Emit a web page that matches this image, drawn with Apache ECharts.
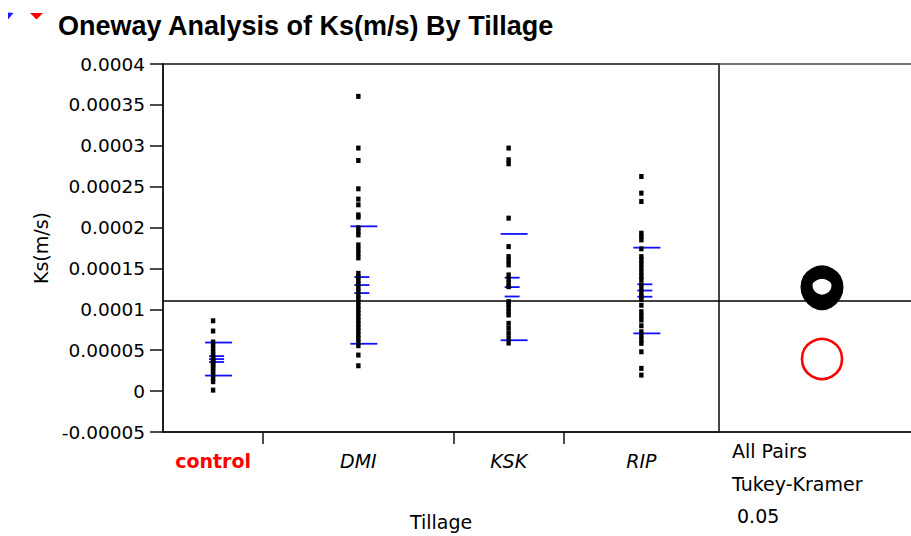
<!DOCTYPE html>
<html>
<head>
<meta charset="utf-8">
<script src="https://cdn.jsdelivr.net/npm/echarts@6/dist/echarts.min.js"></script>
<style>
  html, body { margin: 0; padding: 0; background: #ffffff; }
  #chart { width: 911px; height: 536px; }
</style>
</head>
<body>
<div id="chart"></div>
<script>
// Tillage treatments and their saturated hydraulic conductivity readings, Ks (m/s)
const categories = ['control', 'DMI', 'KSK', 'RIP'];

const controlKs = [8.6e-5, 7.35e-5, 6.0e-5, 5.6e-5, 5.2e-5, 4.8e-5, 4.5e-5, 4.1e-5, 3.9e-5, 3.8e-5,
  3.6e-5, 3.4e-5, 3.2e-5, 3.0e-5, 2.7e-5, 2.4e-5, 2.0e-5, 1.6e-5, 1.15e-5, 1.2e-6];

const dmiKs = [3.604e-4, 2.972e-4, 2.82e-4, 2.474e-4, 2.348e-4, 2.278e-4, 2.155e-4, 2.127e-4,
  1.996e-4, 1.953e-4, 1.91e-4, 1.788e-4, 1.735e-4, 1.682e-4, 1.629e-4,
  1.44e-4, 1.395e-4, 1.35e-4, 1.31e-4, 1.265e-4, 1.22e-4, 1.175e-4, 1.13e-4, 1.09e-4, 1.045e-4,
  1.0e-4, 9.55e-5, 9.1e-5, 8.65e-5, 8.2e-5, 7.8e-5, 7.35e-5, 6.9e-5, 6.45e-5, 6.0e-5, 5.55e-5,
  4.41e-5, 3.1e-5];

const kskKs = [2.972e-4, 2.829e-4, 2.78e-4, 2.115e-4, 1.767e-4, 1.645e-4, 1.593e-4, 1.543e-4,
  1.421e-4, 1.37e-4, 1.32e-4, 1.277e-4, 1.094e-4, 1.06e-4, 1.02e-4, 9.75e-5, 9.31e-5,
  8.29e-5, 7.68e-5, 7.07e-5, 6.49e-5, 5.88e-5];

const ripKs = [2.624e-4, 2.421e-4, 2.318e-4, 1.931e-4, 1.89e-4, 1.849e-4, 1.74e-4,
  1.645e-4, 1.60e-4, 1.55e-4, 1.50e-4, 1.45e-4, 1.40e-4, 1.359e-4,
  1.30e-4, 1.245e-4, 1.20e-4, 1.155e-4, 1.12e-4, 1.05e-4, 9.71e-5, 9.2e-5, 8.69e-5, 7.99e-5,
  7.26e-5, 6.8e-5, 6.3e-5, 5.84e-5, 4.81e-5, 2.78e-5, 1.96e-5];

// Group summaries: means, standard deviations, standard errors
const groupMeans = [3.92e-5, 1.297e-4, 1.272e-4, 1.23e-4];
const groupStdDevs = [2.02e-5, 7.18e-5, 6.5e-5, 5.24e-5];
const groupStdErrs = [3.6e-6, 9.8e-6, 1.15e-5, 7.6e-6];
const grandMean = 1.106e-4;

// Tukey-Kramer comparison circle radii (Ks units)
const circleRadii = [2.45e-5, 1.65e-5, 2.14e-5, 1.9e-5];
const comparisonLines = ['All Pairs', 'Tukey-Kramer', '0.05'];

// Y scale
const yMin = -0.00005;
const yMax = 0.0004;
const yStep = 0.00005;

const groups = [controlKs, dmiKs, kskKs, ripKs];

// Each group occupies a slice of the x axis proportional to its size
const bounds = [0];
groups.forEach(g => bounds.push(bounds[bounds.length - 1] + g.length));
const xTotal = bounds[bounds.length - 1];
const centers = groups.map((g, i) => bounds[i] + g.length / 2);
const innerBounds = bounds.slice(1, -1);

const points = [];
groups.forEach((g, i) => g.forEach(v => points.push([centers[i], v])));

const FONT = 'DejaVu Sans';
const AXIS_COLOR = '#111';

function fmtY(v) {
  let s = v.toFixed(5).replace(/0+$/, '').replace(/\.$/, '');
  if (s === '-0') s = '0';
  return s;
}

function renderMeanLines(params, api) {
  const x = api.value(0), m = api.value(1), sd = api.value(2), se = api.value(3);
  const px = api.coord([x, m])[0];
  const seg = (v, l, r) => {
    const y = api.coord([x, v])[1];
    return { type: 'line', shape: { x1: px + l, y1: y, x2: px + r, y2: y },
      style: { stroke: '#1010ff', lineWidth: 1.8 } };
  };
  return { type: 'group', children: [
    seg(m + sd, -8, 19), seg(m - sd, -8, 19),
    seg(m + se, -4, 11), seg(m, -4, 11), seg(m - se, -4, 11)
  ] };
}

function renderCircle(params, api) {
  const idx = api.value(3);
  const c = api.coord([api.value(0), api.value(1)]);
  const r = Math.abs(api.size([0, api.value(2)])[1]);
  const isControl = idx === 0;
  return { type: 'circle', shape: { cx: c[0], cy: c[1], r: r },
    style: { fill: 'none', stroke: isControl ? '#ff0000' : '#000000', lineWidth: isControl ? 2.6 : 8 } };
}

const grandMeanLine = {
  silent: true, symbol: 'none', precision: 10, label: { show: false },
  lineStyle: { color: '#000', type: 'solid', width: 1.5 },
  emphasis: { disabled: true },
  data: [{ yAxis: grandMean }]
};

const chart = echarts.init(document.getElementById('chart'), null, { renderer: 'svg' });

chart.setOption({
  animation: false,
  backgroundColor: '#ffffff',
  title: {
    text: 'Oneway Analysis of Ks(m/s) By Tillage',
    left: 53, top: 7,
    textStyle: { fontFamily: 'Liberation Sans', fontWeight: 'bold', fontSize: 27, color: '#000' }
  },
  graphic: [
    { type: 'polygon', shape: { points: [[8, 12.5], [13.5, 13], [8, 19.5]] }, style: { fill: '#1a1aff' } },
    { type: 'polygon', shape: { points: [[30, 13], [43, 13], [36.5, 19.5]] }, style: { fill: '#ff0000' } }
  ],
  grid: [
    { left: 163, top: 64, width: 556, height: 368, show: true, borderColor: AXIS_COLOR, borderWidth: 1.5,
      outerBoundsMode: 'none', containLabel: false },
    { left: 719, top: 64, width: 206, height: 368, show: true, borderColor: '#444', borderWidth: 1.5,
      outerBoundsMode: 'none', containLabel: false }
  ],
  xAxis: [
    {
      gridIndex: 0, type: 'value', min: 0, max: xTotal,
      name: 'Tillage', nameLocation: 'middle', nameGap: 80,
      nameTextStyle: { fontFamily: FONT, fontSize: 19, color: '#000' },
      axisLine: { show: true, onZero: false, lineStyle: { color: AXIS_COLOR, width: 1.5 } },
      axisTick: { show: true, customValues: innerBounds, length: 12, inside: false,
        lineStyle: { color: AXIS_COLOR, width: 1.5 } },
      splitLine: { show: false },
      axisLabel: {
        customValues: centers, margin: 19,
        formatter: v => {
          const i = centers.findIndex(c => Math.abs(c - v) < 1e-6);
          if (i < 0) return '';
          return i === 0 ? '{ctl|' + categories[i] + '}' : '{it|' + categories[i] + '}';
        },
        rich: {
          ctl: { color: '#ff0000', fontWeight: 'bold', fontFamily: FONT, fontSize: 19 },
          it: { color: '#000', fontStyle: 'italic', fontFamily: FONT, fontSize: 19 }
        }
      }
    },
    {
      gridIndex: 1, type: 'value', min: 0, max: 1,
      axisLine: { show: true, onZero: false, lineStyle: { color: AXIS_COLOR, width: 1.5 } },
      axisTick: { show: false },
      splitLine: { show: false },
      axisLabel: {
        customValues: [0], margin: 3, align: 'left',
        formatter: () => '{a|' + comparisonLines[0] + '}\n{a|' + comparisonLines[1] + '}\n{b|' + comparisonLines[2] + '}',
        rich: {
          a: { fontFamily: FONT, fontSize: 19, color: '#000', lineHeight: 32.5, padding: [0, 0, 0, 13] },
          b: { fontFamily: FONT, fontSize: 19, color: '#000', lineHeight: 32.5, padding: [0, 0, 0, 18] }
        }
      }
    }
  ],
  yAxis: [
    {
      gridIndex: 0, type: 'value', min: yMin, max: yMax, interval: yStep,
      name: 'Ks(m/s)', nameLocation: 'middle', nameGap: 110, nameRotate: 90,
      nameTextStyle: { fontFamily: FONT, fontSize: 19, color: '#000' },
      axisLine: { show: true, onZero: false, lineStyle: { color: AXIS_COLOR, width: 1.5 } },
      axisTick: { show: true, length: 13, inside: false, lineStyle: { color: AXIS_COLOR, width: 1.5 } },
      splitLine: { show: false },
      axisLabel: { formatter: fmtY, margin: 18, fontFamily: FONT, fontSize: 18.5, color: '#000' }
    },
    {
      gridIndex: 1, type: 'value', min: yMin, max: yMax, interval: yStep, show: false
    }
  ],
  series: [
    {
      name: 'Mean and spread', type: 'custom', xAxisIndex: 0, yAxisIndex: 0, z: 3,
      renderItem: renderMeanLines,
      encode: { x: 0, y: 1 },
      data: categories.map((c, i) => [centers[i], groupMeans[i], groupStdDevs[i], groupStdErrs[i]])
    },
    {
      name: 'Ks', type: 'scatter', xAxisIndex: 0, yAxisIndex: 0, z: 4,
      symbol: 'rect', symbolSize: [4.4, 5],
      itemStyle: { color: '#000', opacity: 1 },
      data: points,
      markLine: grandMeanLine
    },
    {
      name: 'Comparison circles', type: 'custom', xAxisIndex: 1, yAxisIndex: 1, z: 4,
      renderItem: renderCircle,
      encode: { x: 0, y: 1 },
      data: [1, 2, 3, 0].map(i => [0.5, groupMeans[i], circleRadii[i], i]),
      markLine: grandMeanLine
    }
  ]
});
</script>
</body>
</html>
